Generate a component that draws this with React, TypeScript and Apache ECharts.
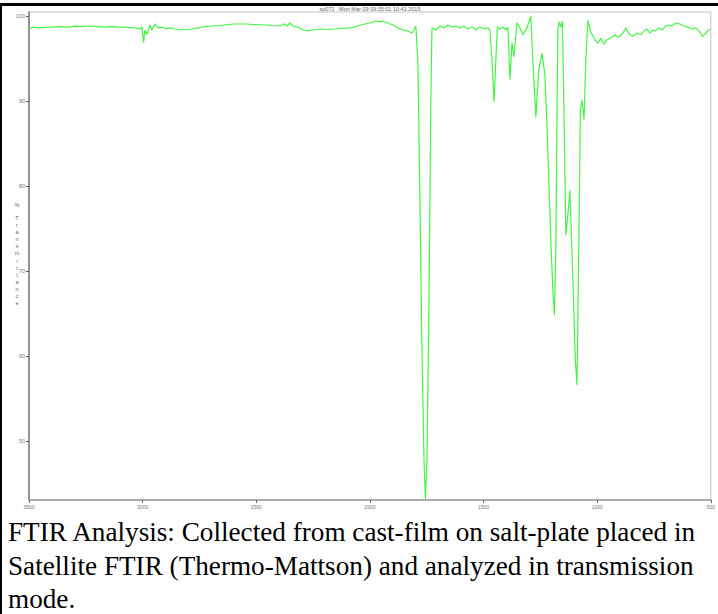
import React, { useEffect, useRef } from "react";
import * as echarts from "echarts";

// Wavenumber (cm-1) and % transmittance
const wavenumbers = [
  3500, 3482, 3460, 3430, 3399, 3364, 3328, 3298, 3267, 3232, 3196, 3166, 3135, 3100, 3065, 3034, 3012,
  3003, 2996, 2990, 2981, 2968, 2959, 2946, 2933, 2915, 2897, 2880, 2858, 2836, 2809, 2783, 2757, 2726,
  2695, 2660, 2625, 2594, 2550, 2506, 2462, 2431, 2396, 2378, 2365, 2352, 2339, 2317, 2295, 2273, 2251,
  2220, 2189, 2154, 2123, 2088, 2053, 2022, 2000, 1974, 1956, 1943, 1921, 1899, 1877, 1855, 1833, 1815,
  1806, 1798, 1789, 1780, 1771, 1762, 1756, 1749, 1740, 1732, 1727, 1710, 1692, 1674, 1657, 1639, 1622,
  1604, 1587, 1569, 1551, 1534, 1516, 1498, 1481, 1472, 1463, 1454, 1446, 1439, 1428, 1415, 1401, 1393,
  1384, 1375, 1366, 1353, 1340, 1327, 1309, 1292, 1283, 1270, 1257, 1243, 1230, 1217, 1204, 1195, 1188,
  1182, 1177, 1173, 1167, 1160, 1153, 1147, 1138, 1129, 1120, 1107, 1096, 1089, 1081, 1074, 1067, 1058,
  1050, 1041, 1028, 1010, 997, 984, 971, 957, 940, 922, 905, 887, 874, 860, 843, 825, 808, 795, 781, 768,
  755, 742, 729, 715, 702, 689, 671, 654, 636, 619, 601, 583, 566, 548, 535, 522, 509, 500,
];
const transmittance = [
  98.47, 98.7, 98.6, 98.65, 98.7, 98.76, 98.7, 98.8, 98.76, 98.82, 98.76, 98.7, 98.76, 98.7, 98.65, 98.6, 98.47,
  98.7, 96.9, 98.35, 97.8, 98.94, 98.35, 99.06, 98.6, 98.7, 98.47, 98.6, 98.47, 98.35, 98.41, 98.47, 98.6, 98.76,
  98.82, 98.88, 99.0, 99.06, 99.06, 99.0, 98.94, 98.88, 98.82, 99.06, 98.82, 99.18, 98.82, 98.7, 98.35, 98.24, 98.35,
  98.47, 98.41, 98.47, 98.53, 98.6, 98.82, 99.06, 99.18, 99.41, 99.3, 99.41, 99.18, 98.94, 98.6, 98.35, 98.24, 98.0,
  98.35, 98.82, 94.8, 78.35, 60.7, 47.8, 43.2, 47.8, 66.6, 90.1, 98.6, 98.35, 98.82, 98.6, 98.94, 98.7, 98.82,
  98.6, 98.82, 98.47, 98.7, 98.35, 98.7, 98.47, 98.6, 98.35, 94.8, 89.9, 94.8, 98.7, 98.47, 98.7, 98.35, 98.7,
  92.5, 96.8, 95.2, 99.2, 98.6, 97.8, 98.6, 100.0, 94.8, 88.1, 93.6, 95.6, 93.1, 84.2, 73.6, 67.8, 64.8,
  72.5, 87.8, 98.35, 99.3, 98.7, 99.4, 90.1, 74.2, 76.6, 79.5, 68.9, 59.5, 56.6, 72.5, 88.9, 90.1, 87.8,
  94.8, 99.5, 98.1, 97.2, 96.8, 97.4, 96.7, 97.2, 97.4, 97.8, 97.5, 98.0, 98.6, 97.9, 97.6, 98.0, 97.8, 98.2, 98.47, 98.0,
  98.35, 98.24, 98.6, 98.35, 98.7, 98.94, 98.82, 99.18, 99.06, 98.82, 98.7, 98.47, 98.6, 98.1, 97.6, 98.0, 98.35, 98.47,
];
const xTicks = [3500, 3000, 2500, 2000, 1500, 1000, 500];
const yTicks = [50, 60, 70, 80, 90, 100];
const titleText = "sp071   Mon Mar 09 09:05:01 10:41 2015";
const yAxisPercent = "%";
const yAxisWord = "Transmittance";
const captionLines = [
  "FTIR Analysis: Collected from cast-film on salt-plate placed in",
  "Satellite FTIR (Thermo-Mattson) and analyzed in transmission",
  "mode.",
];

export default function App() {
  const ref = useRef<HTMLDivElement>(null);
  useEffect(() => {
    const chart = echarts.init(ref.current!, null, { renderer: "svg" });
    const seriesData = wavenumbers.map((w, i) => [w, transmittance[i]]);
    const smallFont = "'Liberation Sans', Arial, sans-serif";
    chart.setOption({
      animation: false,
      backgroundColor: "#ffffff",
      grid: {
        left: 29,
        top: 12,
        right: 7,
        bottom: 114,
        show: true,
        borderColor: "#c4c4c4",
        borderWidth: 1,
        backgroundColor: "transparent",
      },
      xAxis: {
        type: "value",
        inverse: true,
        min: 500,
        max: 3500,
        interval: 500,
        axisLine: { show: true, onZero: false, lineStyle: { color: "#9a9a9a", width: 1.5 } },
        axisTick: { show: true, length: 3, lineStyle: { color: "#666" }, customValues: xTicks },
        axisLabel: {
          show: true,
          fontSize: 5,
          color: "#777",
          margin: 4,
          fontFamily: smallFont,
          customValues: xTicks,
          formatter: (v: number) => String(v),
        },
        splitLine: { show: false },
      },
      yAxis: {
        type: "value",
        min: 43.06,
        max: 100.47,
        axisLine: { show: true, onZero: false, lineStyle: { color: "#7a7a7a", width: 1.5 } },
        axisTick: { show: true, length: 3, lineStyle: { color: "#555" }, customValues: yTicks },
        axisLabel: {
          show: true,
          fontSize: 5.5,
          color: "#777",
          margin: 4,
          fontFamily: smallFont,
          customValues: yTicks,
          formatter: (v: number) => String(v),
        },
        splitLine: { show: false },
      },
      series: [
        {
          type: "line",
          data: seriesData,
          showSymbol: false,
          symbol: "none",
          lineStyle: { color: "#44f544", width: 1.2 },
          clip: true,
        },
      ],
      graphic: [
        { type: "rect", shape: { x: 0, y: 3, width: 718, height: 3 }, style: { fill: "#000" }, silent: true },
        { type: "rect", shape: { x: 0, y: 3, width: 2, height: 611 }, style: { fill: "#000" }, silent: true },
        {
          type: "text",
          x: 370,
          y: 8.5,
          style: {
            text: titleText,
            fontSize: 5.5,
            fill: "#666",
            align: "center",
            verticalAlign: "middle",
            fontFamily: smallFont,
          },
        },
        {
          type: "text",
          x: 17,
          y: 205,
          style: {
            text: yAxisPercent,
            fontSize: 5.5,
            fill: "#667",
            align: "center",
            verticalAlign: "middle",
            fontFamily: smallFont,
          },
        },
        {
          type: "text",
          x: 17,
          y: 214.5,
          style: {
            text: yAxisWord.split("").join("\n"),
            fontSize: 5.5,
            lineHeight: 7.08,
            fill: "#667",
            align: "center",
            verticalAlign: "top",
            fontFamily: smallFont,
          },
        },
        ...captionLines.map((line, i) => ({
          type: "text",
          x: 8,
          y: 532 + i * 33.5,
          style: {
            text: line,
            fontSize: 27.2,
            fill: "#000",
            align: "left",
            verticalAlign: "middle",
            fontFamily: "'Liberation Serif', 'Times New Roman', serif",
          },
        })),
      ],
    });
    return () => chart.dispose();
  }, []);
  return (
    <div
      ref={ref}
      style={{ position: "absolute", left: 0, top: 0, width: 718, height: 614, background: "#fff" }}
    />
  );
}
